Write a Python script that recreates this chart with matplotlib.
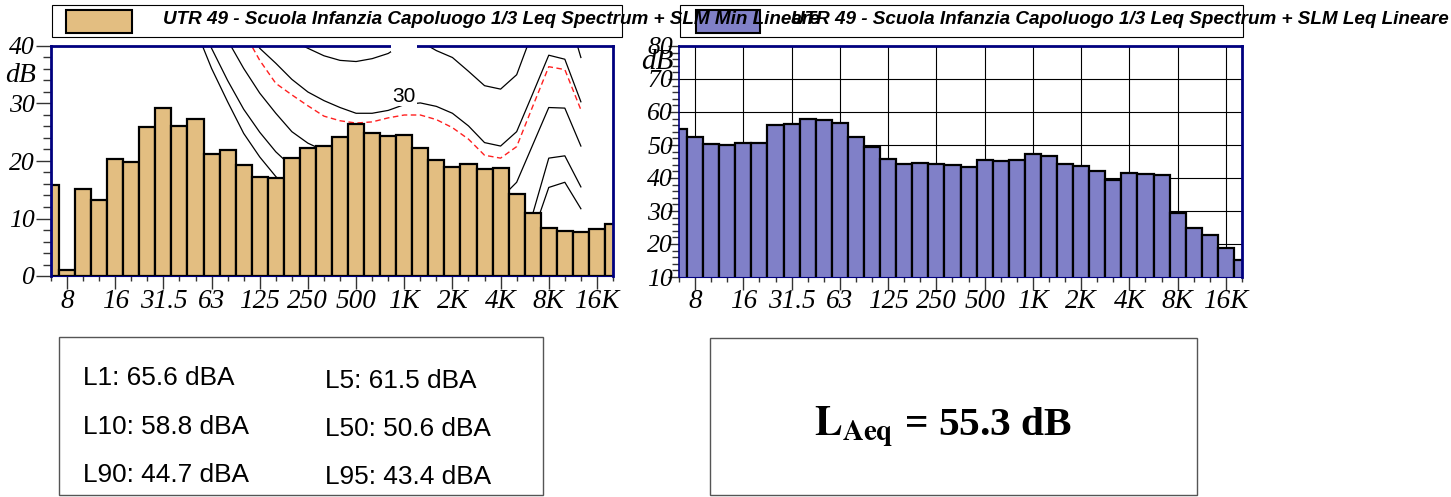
import numpy as np
import matplotlib.pyplot as plt
from matplotlib.patches import Rectangle

plt.rcParams['mathtext.fontset'] = 'stix'

# 1/3 octave bands, 6.3 Hz .. 20 kHz
bands = ['6.3', '8', '10', '12.5', '16', '20', '25', '31.5', '40', '50', '63', '80',
         '100', '125', '160', '200', '250', '315', '400', '500', '630', '800', '1K',
         '1.25K', '1.6K', '2K', '2.5K', '3.15K', '4K', '5K', '6.3K', '8K', '10K',
         '12.5K', '16K', '20K']
octave_labels = ['8', '16', '31.5', '63', '125', '250', '500', '1K', '2K', '4K', '8K', '16K']

leq_min = [15.8, 1.0, 15.2, 13.2, 20.4, 19.8, 25.9, 29.3, 26.0, 27.3, 21.2, 21.9,
           19.3, 17.2, 17.0, 20.6, 22.3, 22.6, 24.1, 26.4, 24.8, 24.3, 24.5,
           22.3, 20.2, 19.0, 19.5, 18.6, 18.7, 14.3, 10.9, 8.4, 7.9,
           7.7, 8.1, 9.0]
leq = [54.8, 52.3, 50.3, 49.9, 50.6, 50.7, 56.1, 56.4, 57.8, 57.5, 56.7, 52.3,
       49.3, 45.8, 44.1, 44.6, 44.1, 43.9, 43.3, 45.4, 45.0, 45.6, 47.4,
       46.6, 44.3, 43.6, 42.1, 39.3, 41.4, 41.1, 40.8, 29.5, 24.7,
       22.8, 18.7, 15.3]

# contour curves on the left chart (first value is at the named band, last at 12.5K)
curve_a_start = '50'
curve_a = [43.0, 36.1, 30.3, 24.8, 20.7, 17.3, 14.5, 12.0, 9.8, 8.0, 6.5, 5.5, 5.0,
           4.5, 4.0, 3.0, 2.0, 1.5, 1.5, 2.0, 4.0, 7.3, 15.4, 16.3, 11.7]
curve_b_start = '50'
curve_b = [45.5, 39.6, 34.0, 29.0, 25.0, 21.6, 19.0, 17.0, 15.5, 14.5, 13.5, 13.0,
           12.5, 12.0, 12.0, 11.0, 9.0, 8.0, 7.5, 7.5, 8.5, 10.8, 20.5, 20.9, 15.5]
curve_c_start = '80'
curve_c = [41.0, 36.1, 31.8, 28.3, 25.1, 23.1, 21.8, 21.0, 20.5, 20.2, 20.0, 20.0,
           20.3, 19.8, 18.0, 15.8, 13.8, 13.5, 16.3, 22.8, 29.3, 29.2, 22.6]
curve_30_start = '100'
curve_30 = [44.0, 39.6, 37.0, 34.2, 32.0, 30.5, 29.3, 28.3, 28.3, 28.8, 29.8, 30.1,
            29.5, 28.3, 26.1, 23.2, 22.6, 25.1, 31.7, 38.4, 37.7, 30.3]
curve_red_start = '100'
curve_red = [42.5, 37.5, 33.5, 31.5, 29.6, 27.8, 27.0, 26.6, 26.8, 27.5, 28.0, 28.0,
             27.2, 25.8, 23.8, 21.0, 20.5, 22.5, 29.5, 36.4, 35.9, 28.9]
curve_40_start = '200'
curve_40 = [41.0, 39.6, 38.3, 37.5, 37.3, 37.8, 38.7, 40.5, 40.8, 39.2, 38.0, 35.6,
            33.1, 32.5, 35.0, 42.5, 48.5, 47.5, 38.0]

title_min = 'UTR 49 - Scuola Infanzia Capoluogo 1/3 Leq Spectrum + SLM Min Lineare'
title_leq = 'UTR 49 - Scuola Infanzia Capoluogo 1/3 Leq Spectrum + SLM Leq Lineare'
stats = [('L1: 65.6 dBA', 'L5: 61.5 dBA'),
         ('L10: 58.8 dBA', 'L50: 50.6 dBA'),
         ('L90: 44.7 dBA', 'L95: 43.4 dBA')]
laeq_text = r'$\mathbf{L}_{\mathbf{Aeq}}$ = 55.3 dB'

tan = '#E3BE81'
purple = '#8080C8'
navy = '#00007F'
serif = 'Liberation Serif'
sans = 'Liberation Sans'

W, H = 1451, 497
fig = plt.figure(figsize=(W / 100, H / 100), dpi=100)


def rect(x0, y0, x1, y1):
    return [x0 / W, 1 - y1 / H, (x1 - x0) / W, (y1 - y0) / H]


def box(x0, y0, x1, y1, **kw):
    fig.add_artist(Rectangle((x0 / W, 1 - y1 / H), (x1 - x0) / W, (y1 - y0) / H,
                             transform=fig.transFigure, **kw))


def ftext(x0, y0, s, **kw):
    return fig.text(x0 / W, 1 - y0 / H, s, **kw)


def fit(t, width):
    r = fig.canvas.get_renderer()
    t.set_fontsize(t.get_fontsize() * width / t.get_window_extent(renderer=r).width)


x = np.arange(len(bands))

ax1 = fig.add_axes(rect(51, 46, 613, 276))
ax2 = fig.add_axes(rect(679, 46, 1242, 277))


def style(ax, ylim, maj, mnr, ypad, left_lw):
    ax.set_xlim(0, len(bands) - 1)
    ax.set_ylim(*ylim)
    ax.set_yticks(np.arange(ylim[0], ylim[1] + 1, 10))
    ax.set_yticks(np.arange(ylim[0], ylim[1] + 1, 2), minor=True)
    ax.set_xticks(x[1::3], octave_labels)
    ax.set_xticks(x, minor=True)
    ax.tick_params(axis='y', which='major', length=maj, width=1, color='#333333', pad=ypad)
    ax.tick_params(axis='y', which='minor', length=mnr, width=1, color='#333333')
    ax.tick_params(axis='x', which='major', length=9, width=1, color='#333333', pad=0)
    ax.tick_params(axis='x', which='minor', length=3.5, width=1, color='#333333')
    for lab in ax.get_xticklabels():
        lab.set_fontfamily(serif)
        lab.set_fontstyle('italic')
        lab.set_fontsize(19.5)
    for lab in ax.get_yticklabels():
        lab.set_fontfamily(serif)
        lab.set_fontstyle('italic')
        lab.set_fontsize(18.5)
    for side, lw in [('top', 2), ('right', 2), ('left', left_lw), ('bottom', 0.8)]:
        ax.spines[side].set_color(navy)
        ax.spines[side].set_linewidth(lw)
        ax.spines[side].set_zorder(4)


# left chart
ax1.bar(x, leq_min, width=1, color=tan, edgecolor='black', linewidth=1.6, zorder=3)
for start, vals in [(curve_a_start, curve_a), (curve_b_start, curve_b),
                    (curve_c_start, curve_c), (curve_30_start, curve_30),
                    (curve_40_start, curve_40)]:
    i0 = bands.index(start)
    ax1.plot(x[i0:i0 + len(vals)], vals, color='black', lw=0.9, zorder=2)
i0 = bands.index(curve_red_start)
ax1.plot(x[i0:i0 + len(curve_red)], curve_red, color='#FF2020', lw=1.0,
         ls=(0, (4, 2.5)), zorder=2)
ax1.text(22, 31.3, '30', ha='center', va='center', fontsize=15, family=sans,
         bbox=dict(fc='white', ec='none', pad=0.5), zorder=2.5)
# background of the clipped "40" label
ax1.add_patch(Rectangle((21.2, 38.9), 1.6, 2.0, fc='white', ec='none',
                        clip_on=False, zorder=5))
style(ax1, (0, 40), 10.5, 5.8, 1.2, 2)

# right chart
ax2.bar(x, leq, width=1, color=purple, edgecolor='black', linewidth=1.6, zorder=3)
ax2.grid(True, which='major', color='black', lw=0.8)
ax2.set_axisbelow(True)
style(ax2, (10, 80), 8, 4.8, -3.6, 1.2)

ftext(36, 76, 'dB', ha='right', va='center', family=serif, style='italic', fontsize=20)
ftext(674, 62, 'dB', ha='right', va='center', family=serif, style='italic', fontsize=21)

# legends
box(52, 5, 622, 37, fc='white', ec='black', lw=0.8, zorder=1)
box(66, 10, 132, 33, fc=tan, ec='black', lw=1.5, zorder=1)
box(680, 5, 1243, 37, fc='white', ec='black', lw=0.8, zorder=1)
box(696, 10, 760, 33, fc=purple, ec='black', lw=1.5, zorder=1)
t1 = ftext(163, 20, title_min, ha='left', va='center', family=sans,
           weight='bold', style='italic', fontsize=13, zorder=3)
t2 = ftext(791, 20, title_leq, ha='left', va='center', family=sans,
           weight='bold', style='italic', fontsize=13, zorder=3)
fit(t1, 655)
fit(t2, 655)

# statistics box
box(59, 337, 543, 495, fc='none', ec='#555555', lw=1)
rows_y = [(378, 381), (427, 429), (475, 477)]
stat_texts = []
for (a, b), (ya, yb) in zip(stats, rows_y):
    stat_texts.append(ftext(83, ya, a, ha='left', va='center', family=sans, fontsize=17))
    stat_texts.append(ftext(325, yb, b, ha='left', va='center', family=sans, fontsize=17))
fit(stat_texts[0], 152)
for t in stat_texts[1:]:
    t.set_fontsize(stat_texts[0].get_fontsize())

# LAeq box
box(710, 338, 1197, 495, fc='none', ec='#555555', lw=1)
tl = ftext(814, 436, laeq_text, ha='left', va='baseline', family=serif,
           weight='bold', fontsize=30)
fit(tl, 258)

fig.savefig('out.png', dpi=100)
